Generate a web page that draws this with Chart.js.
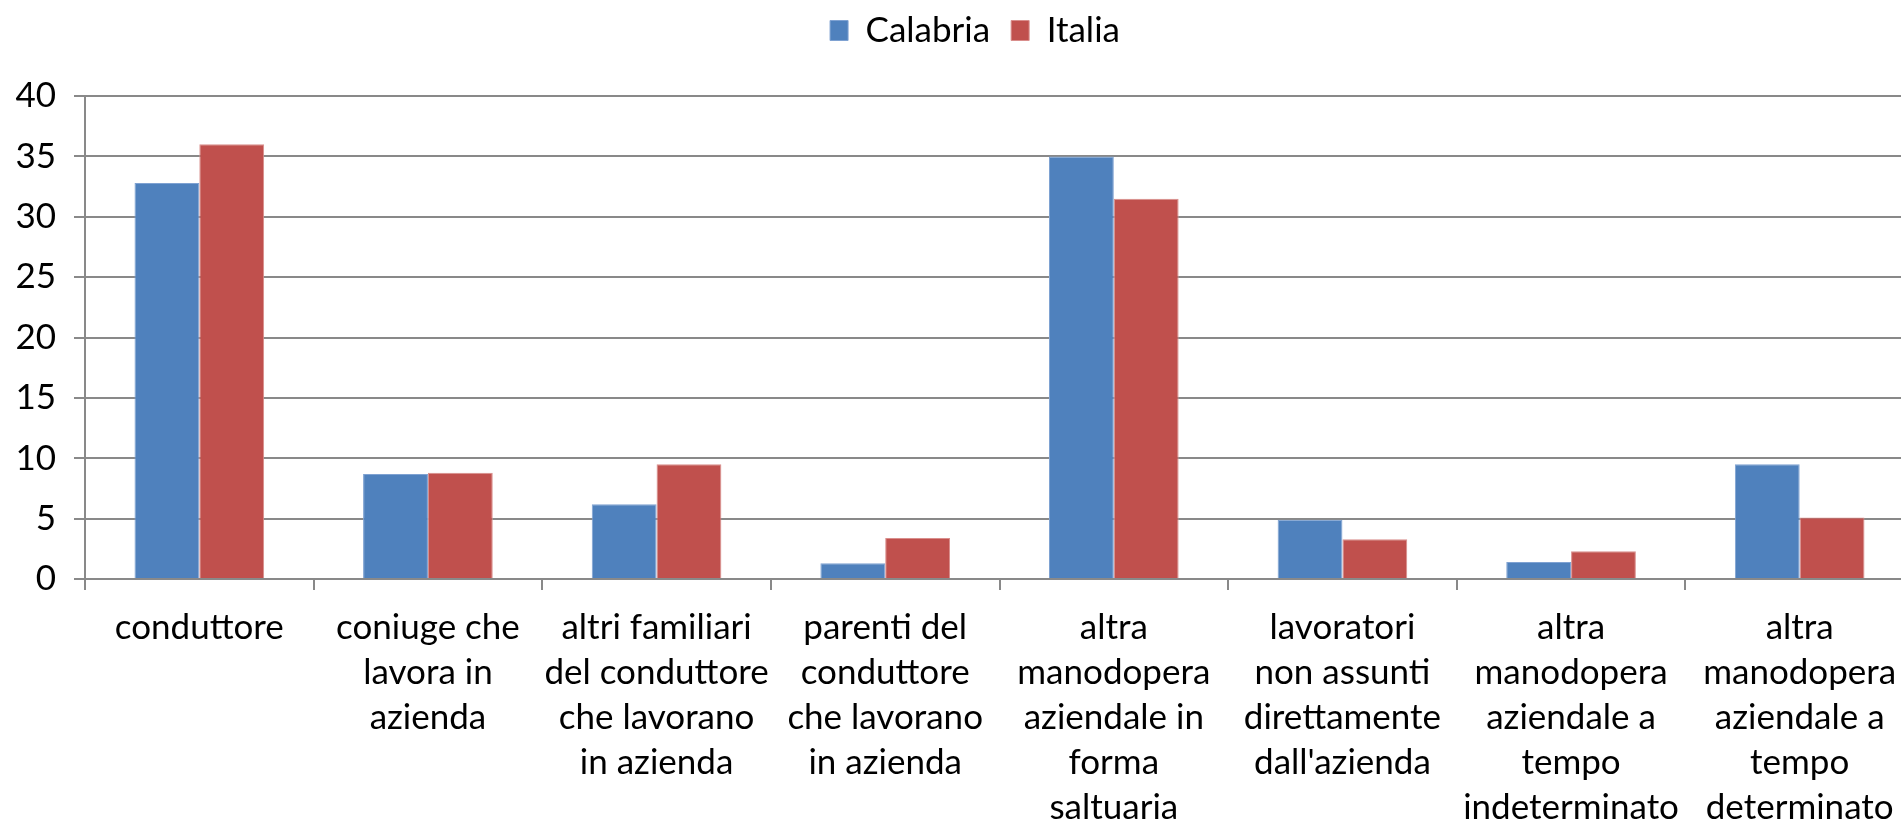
<!DOCTYPE html>
<html>
<head>
<meta charset="utf-8">
<script src="https://cdn.jsdelivr.net/npm/chart.js@4/dist/chart.umd.min.js"></script>
<style>
  html, body { margin: 0; padding: 0; overflow: hidden; background: #fff; }
  canvas { display: block; }
</style>
</head>
<body>
<canvas id="chart-canvas" width="1950" height="822"></canvas>
<script>
// Categories (wrapped like the original axis labels)
const categories = [
  "conduttore",
  ["coniuge che", "lavora in", "azienda"],
  ["altri familiari", "del conduttore", "che lavorano", "in azienda"],
  ["parenti del", "conduttore", "che lavorano", "in azienda"],
  ["altra", "manodopera", "aziendale in", "forma", "saltuaria"],
  ["lavoratori", "non assunti", "direttamente", "dall'azienda"],
  ["altra", "manodopera", "aziendale a", "tempo", "indeterminato"],
  ["altra", "manodopera", "aziendale a", "tempo", "determinato"],
];

// Values (%)
const calabriaData = [32.8, 8.7, 6.2, 1.3, 35.0, 4.9, 1.4, 9.5];
const italiaData = [36.0, 8.8, 9.5, 3.4, 31.5, 3.3, 2.3, 5.1];

const seriesNames = ["Calabria", "Italia"];

const gridColor = "#898989";

Chart.defaults.font.family = "Lato, 'Liberation Sans', sans-serif";
Chart.defaults.color = "#000";

// Push the plot area down below the legend, and nudge the legend right
const legendSpacer = {
  id: "legendSpacer",
  beforeInit(chart) {
    const origFit = chart.legend.fit;
    chart.legend.fit = function () {
      origFit.bind(chart.legend)();
      this.height += 38;
    };
  },
  afterLayout(chart) {
    chart.legend.left += 18;
    chart.legend.right += 18;
  },
};

const ctx = document.getElementById("chart-canvas").getContext("2d");
const myChart = new Chart(ctx, {
  type: "bar",
  data: {
    labels: categories,
    datasets: [
      {
        label: seriesNames[0],
        data: calabriaData,
        backgroundColor: "#4F81BD",
        borderColor: "#7FA2D2",
        borderWidth: 1,
        categoryPercentage: 0.567,
        barPercentage: 1.0,
      },
      {
        label: seriesNames[1],
        data: italiaData,
        backgroundColor: "#C0504D",
        borderColor: "#D98E8C",
        borderWidth: 1,
        categoryPercentage: 0.567,
        barPercentage: 1.0,
      },
    ],
  },
  options: {
    responsive: false,
    animation: false,
    devicePixelRatio: 1,
    layout: { padding: { top: -8, right: 36, left: 0, bottom: 0 } },
    plugins: {
      legend: {
        position: "top",
        labels: {
          boxWidth: 18,
          boxHeight: 20,
          padding: 21,
          font: { size: 35 },
        },
      },
      tooltip: { enabled: false },
    },
    scales: {
      x: {
        grid: {
          offset: true,
          drawOnChartArea: false,
          drawTicks: true,
          tickLength: 11,
          color: gridColor,
          lineWidth: 2,
        },
        border: { color: gridColor, width: 2 },
        ticks: {
          maxRotation: 0,
          autoSkip: false,
          padding: 15,
          font: { size: 35, lineHeight: "45px" },
        },
        afterFit(scale) {
          scale.height = 243;
        },
      },
      y: {
        min: 0,
        max: 40,
        ticks: {
          stepSize: 5,
          padding: 18,
          font: { size: 35 },
        },
        grid: {
          color: gridColor,
          lineWidth: 2,
          tickLength: 11,
        },
        border: { color: gridColor, width: 2 },
        afterFit(scale) {
          scale.width = 85;
        },
      },
    },
  },
  plugins: [legendSpacer],
});
</script>
</body>
</html>
